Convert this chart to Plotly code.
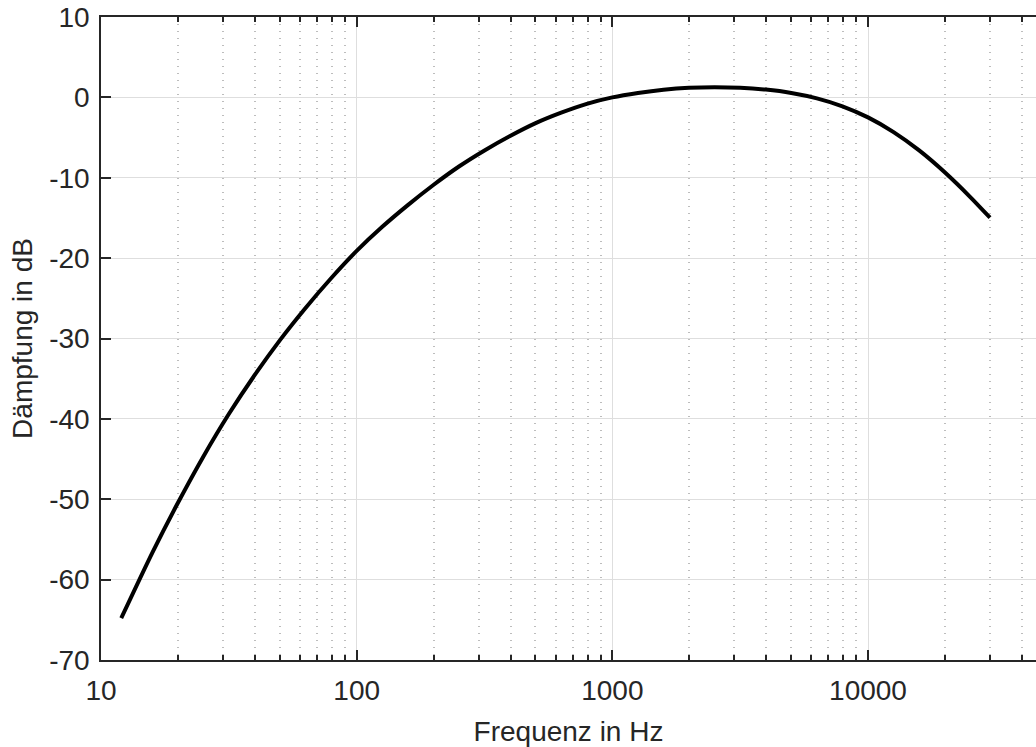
import plotly.graph_objects as go

freq_hz = [12, 15.85, 19.95, 25.12, 31.62, 39.81, 50.12, 63.1, 79.43, 100, 125.9, 158.5, 199.5,
           251.2, 316.2, 398.1, 501.2, 631, 794.3, 1000, 1259, 1585, 1995, 2512, 3162, 3981,
           5012, 6310, 7943, 10000, 12589, 15849, 19953, 25119, 30000]
daempfung_db = [-64.8, -56.7, -50.5, -44.7, -39.4, -34.6, -30.2, -26.2, -22.5, -19.1,
                -16.1, -13.4, -10.9, -8.6, -6.6, -4.8, -3.2, -1.9, -0.8, 0.0, 0.55, 0.96, 1.2,
                1.27, 1.2, 0.97, 0.55, -0.12, -1.11, -2.49, -4.32, -6.6, -9.32, -12.4, -14.97]

x_major = [10, 100, 1000, 10000]
x_major_text = ["10", "100", "1000", "10000"]
x_minor = [m * d for d in (10, 100, 1000, 10000) for m in range(2, 10)]
y_ticks = [-70, -60, -50, -40, -30, -20, -10, 0, 10]
y_text = ["-70", "-60", "-50", "-40", "-30", "-20", "-10", "0", "10"]

axis_col = "#262626"
font = dict(family="Liberation Sans, Arial, sans-serif", size=28, color=axis_col)

fig = go.Figure()
fig.add_trace(go.Scatter(x=freq_hz, y=daempfung_db, mode="lines",
                         line=dict(color="black", width=4, shape="spline", smoothing=0.7),
                         showlegend=False))

fig.update_layout(
    width=1036, height=747,
    margin=dict(l=101, r=0, t=17, b=87),
    paper_bgcolor="white", plot_bgcolor="white",
    font=font,
    xaxis=dict(
        type="log", range=[1, 4.657], automargin=False,
        tickmode="array", tickvals=x_major, ticktext=x_major_text,
        ticks="inside", ticklen=10, tickwidth=1.5, tickcolor=axis_col,
        ticklabelstandoff=5,
        showline=True, linecolor=axis_col, linewidth=1.5, mirror="ticks",
        showgrid=True, gridcolor="#dedede", gridwidth=1,
        zeroline=False,
        minor=dict(tickmode="array", tickvals=x_minor, ticks="inside", ticklen=5,
                   tickwidth=1.5, tickcolor=axis_col, showgrid=True,
                   gridcolor="#bdbdbd", griddash="1px,6px", gridwidth=1.5),
        title=dict(text="Frequenz in Hz", font=font, standoff=17),
        tickfont=font,
    ),
    yaxis=dict(
        range=[-70, 10], automargin=False,
        tickmode="array", tickvals=y_ticks, ticktext=y_text,
        ticks="inside", ticklen=10, tickwidth=1.5, tickcolor=axis_col,
        ticklabelstandoff=4,
        showline=True, linecolor=axis_col, linewidth=1.5,
        showgrid=True, gridcolor="#dedede", gridwidth=1,
        zeroline=False,
        title=dict(text="Dämpfung in dB", font=font, standoff=8),
        tickfont=font,
    ),
)

fig.write_html("out.html", config={"displayModeBar": False},
               post_script="document.body.style.margin='0';document.body.style.overflow='hidden';")
